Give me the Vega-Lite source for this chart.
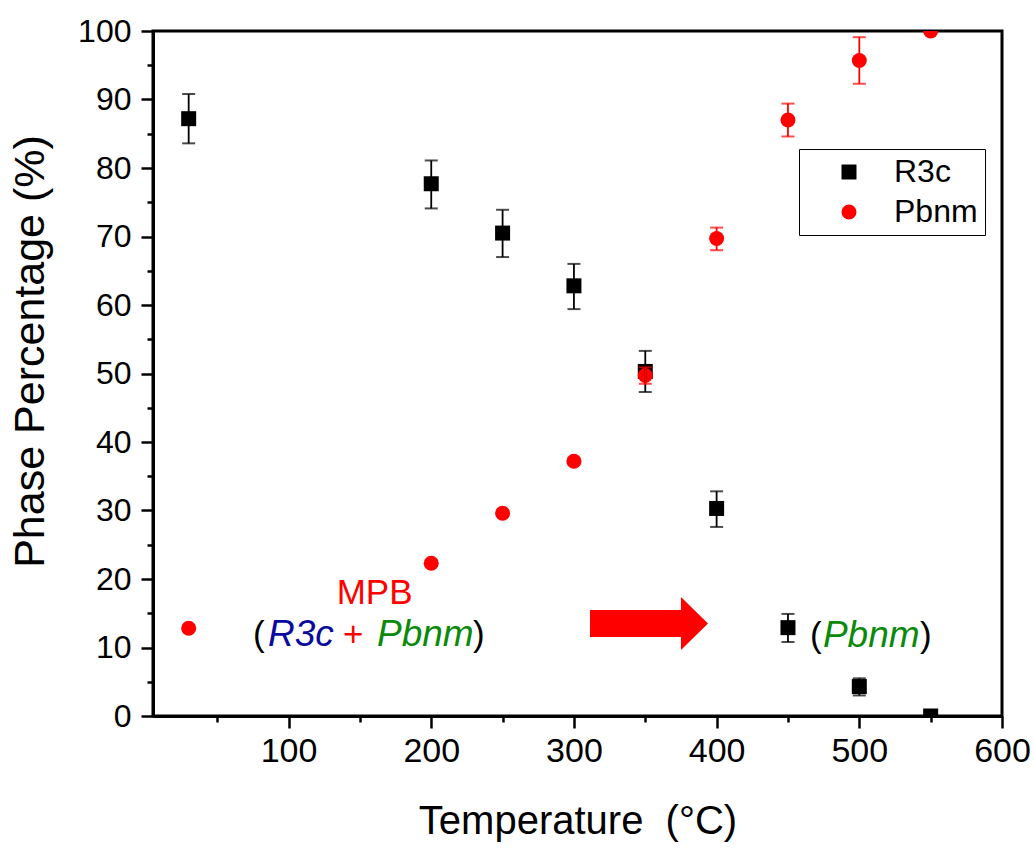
{
  "$schema": "https://vega.github.io/schema/vega-lite/v6.json",
  "width": 849,
  "height": 685,
  "autosize": {"type": "none"},
  "padding": {"left": 153, "top": 31, "right": 32, "bottom": 132},
  "background": "white",
  "config": {
    "view": {"stroke": "black", "strokeWidth": 3},
    "font": "Liberation Sans",
    "axis": {"grid": false},
    "legend": {
      "orient": "none", "legendX": 646, "legendY": 118,
      "labelFontSize": 32, "labelColor": "black", "labelFont": "Liberation Sans",
      "symbolSize": 225, "padding": 7, "strokeColor": "black", "fillColor": "white",
      "symbolOffset": 27, "labelOffset": 29, "rowPadding": 8, "symbolStrokeWidth": 0
    }
  },
  "datasets": {
    "pts": [
      {"series": "R3c", "T": 30, "v": 87.2, "lo": 83.6, "hi": 90.8},
      {"series": "R3c", "T": 200, "v": 77.7, "lo": 74.1, "hi": 81.1},
      {"series": "R3c", "T": 250, "v": 70.5, "lo": 67.0, "hi": 73.9},
      {"series": "R3c", "T": 300, "v": 62.8, "lo": 59.4, "hi": 66.0},
      {"series": "R3c", "T": 350, "v": 50.3, "lo": 47.3, "hi": 53.3},
      {"series": "R3c", "T": 400, "v": 30.3, "lo": 27.6, "hi": 32.8},
      {"series": "R3c", "T": 450, "v": 12.9, "lo": 10.8, "hi": 14.9},
      {"series": "R3c", "T": 500, "v": 4.3, "lo": 3.0, "hi": 5.5},
      {"series": "R3c", "T": 550, "v": 0.0, "lo": 0.0, "hi": 0.0},
      {"series": "Pbnm", "T": 30, "v": 12.8, "lo": 12.4, "hi": 13.2},
      {"series": "Pbnm", "T": 200, "v": 22.3, "lo": 21.9, "hi": 22.7},
      {"series": "Pbnm", "T": 250, "v": 29.6, "lo": 29.2, "hi": 30.0},
      {"series": "Pbnm", "T": 300, "v": 37.2, "lo": 36.7, "hi": 37.7},
      {"series": "Pbnm", "T": 350, "v": 49.7, "lo": 48.5, "hi": 50.9},
      {"series": "Pbnm", "T": 400, "v": 69.7, "lo": 68.0, "hi": 71.3},
      {"series": "Pbnm", "T": 450, "v": 87.0, "lo": 84.6, "hi": 89.4},
      {"series": "Pbnm", "T": 500, "v": 95.7, "lo": 92.3, "hi": 99.1},
      {"series": "Pbnm", "T": 550, "v": 100.0, "lo": 100.0, "hi": 100.0}
    ]
  },
  "layer": [
    {
      "data": {"name": "pts"},
      "mark": {"type": "point", "filled": true, "opacity": 1, "size": 225, "clip": true, "strokeWidth": 0},
      "encoding": {
        "x": {
          "field": "T", "type": "quantitative",
          "scale": {"domain": [5, 600], "nice": false, "zero": false},
          "axis": {
            "orient": "bottom",
            "values": [100, 200, 300, 400, 500, 600],
            "tickSize": 12, "tickWidth": 2.5, "tickColor": "black",
            "domainColor": "black", "domainWidth": 3,
            "labelFontSize": 34, "labelColor": "black", "labelPadding": 6,
            "labelFlush": false, "labelOverlap": false,
            "title": "Temperature \u00a0(°C)", "titleFontSize": 40, "titleFontWeight": "normal",
            "titleColor": "black", "titleY": 117, "titleBaseline": "alphabetic"
          }
        },
        "y": {
          "field": "v", "type": "quantitative",
          "scale": {"domain": [0, 100], "nice": false, "zero": false},
          "axis": {
            "orient": "left",
            "values": [0, 10, 20, 30, 40, 50, 60, 70, 80, 90, 100],
            "tickSize": 12, "tickWidth": 2.5, "tickColor": "black",
            "domainColor": "black", "domainWidth": 3,
            "labelFontSize": 32, "labelColor": "black", "labelPadding": 10,
            "labelFlush": false, "labelOverlap": false,
            "title": "Phase Percentage (%)", "titleFontSize": 43, "titleFontWeight": "normal",
            "titleColor": "black", "titleX": -110, "titleY": 320,
            "titleBaseline": "alphabetic", "titleAngle": 270
          }
        },
        "color": {
          "field": "series", "type": "nominal",
          "scale": {"domain": ["R3c", "Pbnm"], "range": ["#000000", "#ff0000"]},
          "legend": {"title": null}
        },
        "shape": {
          "field": "series", "type": "nominal",
          "scale": {"domain": ["R3c", "Pbnm"], "range": ["square", "circle"]},
          "legend": {"title": null}
        }
      }
    },
    {
      "data": {"name": "pts"},
      "mark": {"type": "rule", "strokeWidth": 1.8, "clip": true},
      "encoding": {
        "x": {"field": "T", "type": "quantitative", "axis": null},
        "y": {"field": "lo", "type": "quantitative", "axis": null},
        "y2": {"field": "hi"},
        "color": {"field": "series", "type": "nominal", "legend": null}
      }
    },
    {
      "data": {"name": "pts"},
      "mark": {"type": "tick", "orient": "horizontal", "size": 13, "thickness": 2, "clip": true},
      "encoding": {
        "x": {
          "field": "T", "type": "quantitative",
          "axis": {
            "orient": "bottom",
            "values": [50, 150, 250, 350, 450, 550],
            "tickSize": 6, "tickWidth": 2.5, "tickColor": "black",
            "labels": false, "domain": false, "title": null
          }
        },
        "y": {
          "field": "lo", "type": "quantitative",
          "axis": {
            "orient": "left",
            "values": [5, 15, 25, 35, 45, 55, 65, 75, 85, 95],
            "tickSize": 6, "tickWidth": 2.5, "tickColor": "black",
            "labels": false, "domain": false, "title": null
          }
        },
        "color": {"field": "series", "type": "nominal", "legend": null}
      }
    },
    {
      "data": {"name": "pts"},
      "mark": {"type": "tick", "orient": "horizontal", "size": 13, "thickness": 2, "clip": true},
      "encoding": {
        "x": {"field": "T", "type": "quantitative", "axis": null},
        "y": {"field": "hi", "type": "quantitative", "axis": null},
        "color": {"field": "series", "type": "nominal", "legend": null}
      }
    },
    {
      "data": {"values": [{"T": 352.6, "v": 13.5}]},
      "mark": {
        "type": "point", "filled": true, "opacity": 1, "color": "#ff0000", "size": 13924, "strokeWidth": 0,
        "shape": "M -1 -0.229 L 0.542 -0.229 L 0.542 -0.449 L 1 0 L 0.542 0.449 L 0.542 0.229 L -1 0.229 Z"
      },
      "encoding": {
        "x": {"field": "T", "type": "quantitative", "axis": null},
        "y": {"field": "v", "type": "quantitative", "axis": null}
      }
    },
    {
      "data": {"values": [{"T": 133.7, "v": 16.35, "label": "MPB"}]},
      "mark": {"type": "text", "align": "left", "baseline": "alphabetic", "fontSize": 35, "color": "#ff0000", "font": "Liberation Sans"},
      "encoding": {
        "x": {"field": "T", "type": "quantitative", "axis": null},
        "y": {"field": "v", "type": "quantitative", "axis": null},
        "text": {"field": "label"}
      }
    },
    {
      "data": {"values": [
        {"T": 75.1, "v": 10.2, "label": "("},
        {"T": 229.3, "v": 10.2, "label": ")"},
        {"T": 465.4, "v": 10.1, "label": "("},
        {"T": 542.5, "v": 10.1, "label": ")"}
      ]},
      "mark": {"type": "text", "align": "left", "baseline": "alphabetic", "fontSize": 35, "color": "#000000", "font": "Liberation Sans"},
      "encoding": {
        "x": {"field": "T", "type": "quantitative", "axis": null},
        "y": {"field": "v", "type": "quantitative", "axis": null},
        "text": {"field": "label"}
      }
    },
    {
      "data": {"values": [{"T": 85.6, "v": 10.2, "label": "R3c"}]},
      "mark": {"type": "text", "align": "left", "baseline": "alphabetic", "fontSize": 37, "fontStyle": "italic", "color": "#0a0a9c", "font": "Liberation Sans"},
      "encoding": {
        "x": {"field": "T", "type": "quantitative", "axis": null},
        "y": {"field": "v", "type": "quantitative", "axis": null},
        "text": {"field": "label"}
      }
    },
    {
      "data": {"values": [{"T": 138.2, "v": 10.2, "label": "+"}]},
      "mark": {"type": "text", "align": "left", "baseline": "alphabetic", "fontSize": 35, "color": "#ff0000", "font": "Liberation Sans"},
      "encoding": {
        "x": {"field": "T", "type": "quantitative", "axis": null},
        "y": {"field": "v", "type": "quantitative", "axis": null},
        "text": {"field": "label"}
      }
    },
    {
      "data": {"values": [
        {"T": 162.0, "v": 10.2, "label": "Pbnm"},
        {"T": 474.5, "v": 10.1, "label": "Pbnm"}
      ]},
      "mark": {"type": "text", "align": "left", "baseline": "alphabetic", "fontSize": 37, "fontStyle": "italic", "color": "#0a8a0a", "font": "Liberation Sans"},
      "encoding": {
        "x": {"field": "T", "type": "quantitative", "axis": null},
        "y": {"field": "v", "type": "quantitative", "axis": null},
        "text": {"field": "label"}
      }
    }
  ],
  "resolve": {"axis": {"x": "independent", "y": "independent"}}
}
